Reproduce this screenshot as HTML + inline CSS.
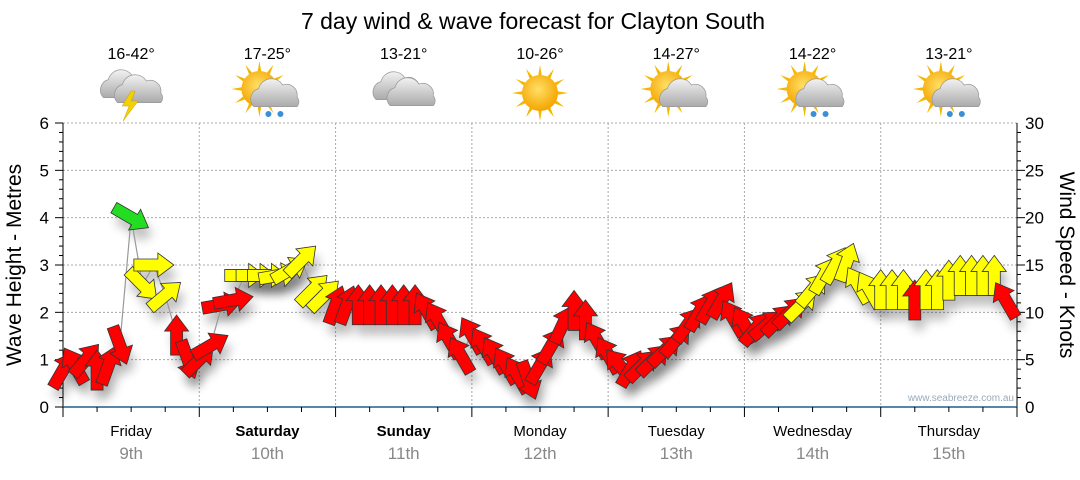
<!DOCTYPE html>
<html><head><meta charset="utf-8"><style>
body{margin:0;background:#fff;font-family:"Liberation Sans","DejaVu Sans",sans-serif}
</style></head><body>
<svg id="chart" width="1080" height="475" xmlns="http://www.w3.org/2000/svg" font-family="Liberation Sans, DejaVu Sans, sans-serif">
<defs>
<filter id="sh" x="-50%" y="-50%" width="200%" height="200%"><feGaussianBlur stdDeviation="5"/></filter>
<radialGradient id="sun" cx="0.45" cy="0.4" r="0.6"><stop offset="0" stop-color="#ffe066"/><stop offset="1" stop-color="#f5a400"/></radialGradient>
<linearGradient id="cl" x1="0" y1="0" x2="0" y2="1"><stop offset="0" stop-color="#f2f2f2"/><stop offset="1" stop-color="#aaa"/></linearGradient>
</defs>
<text x="533" y="29" font-size="23" text-anchor="middle" fill="#000">7 day wind &amp; wave forecast for Clayton South</text>
<g id="grid"></g><g id="axes"></g><g id="header"></g>
<text transform="translate(21,265) rotate(-90)" font-size="21" text-anchor="middle">Wave Height - Metres</text>
<text transform="translate(1060,265) rotate(90)" font-size="21" text-anchor="middle">Wind Speed - Knots</text>
<text x="1014" y="401" font-size="10" text-anchor="end" fill="#9aaabb">www.seabreeze.com.au</text>
<g id="shadows"></g><path id="wline" fill="none" stroke="#999" stroke-width="1.2"/><g id="arrows"></g>
</svg>
<script>
const days=["Friday","Saturday","Sunday","Monday","Tuesday","Wednesday","Thursday"];
const dates=["9th","10th","11th","12th","13th","14th","15th"];
const boldDays=[false,true,true,false,false,false,false];
const temps=["16-42°","17-25°","13-21°","10-26°","14-27°","14-22°","13-21°"];
const icons=["storm","sunrain","cloud","sun","suncloud","sunrain","sunrain"];
const waveTicks=[0,1,2,3,4,5,6];
const windTicks=[0,5,10,15,20,25,30];
// wind speed (knots) every 2 hours
const windSpeed=[3.9,4.4,5.0,3.9,4.4,6.5,20.0,12.9,15.0,11.8,7.6,5.0,
5.0,6.5,10.8,11.3,13.9,13.9,13.9,13.9,14.5,15.5,12.4,11.8,
10.8,10.8,10.8,10.8,10.8,10.8,10.8,10.8,10.2,9.2,7.1,5.5,
7.6,6.5,5.5,4.4,3.4,2.8,4.4,6.5,8.7,10.2,9.2,7.1,
5.5,4.4,4.1,4.4,5.0,6.0,7.1,8.7,10.0,10.8,11.3,9.4,
8.7,8.3,8.7,9.2,10.0,10.8,12.4,13.9,15.0,15.3,12.9,12.4,
12.4,12.4,12.4,11.3,12.4,12.4,13.4,13.9,13.9,13.9,13.9,11.3];
// direction arrow points to (deg, 0 = up, clockwise)
const windDir=[30,330,40,0,20,160,120,135,90,50,0,160,
45,60,80,80,90,90,90,80,60,45,45,45,
20,20,0,0,0,0,0,0,330,330,330,330,
330,330,330,330,330,160,30,30,25,0,0,330,
330,320,30,45,45,45,40,35,30,30,30,330,
330,40,50,45,45,45,40,30,30,20,330,330,
0,0,0,0,0,0,0,0,0,0,0,330];
const windColor=["r","r","r","r","r","r","g","y","y","y","r","r",
"r","r","r","r","y","y","y","y","y","y","y","y",
"r","r","r","r","r","r","r","r","r","r","r","r",
"r","r","r","r","r","r","r","r","r","r","r","r",
"r","r","r","r","r","r","r","r","r","r","r","r",
"r","r","r","r","r","y","y","y","y","y","y","y",
"y","y","y","r","y","y","y","y","y","y","y","r"];
const X0=63,X1=1017,Y0=407,Y1=123;
const NS="http://www.w3.org/2000/svg";
const dayW=(X1-X0)/7;
const xT=t=>X0+t*dayW/12;
const yW=m=>Y0-(Y0-Y1)*m/6;
const yK=k=>Y0-(Y0-Y1)*k/30;
function mk(tag,attrs,parent){const e=document.createElementNS(NS,tag);for(const k in attrs)e.setAttribute(k,attrs[k]);parent.appendChild(e);return e;}
const grid=document.getElementById('grid'),axes=document.getElementById('axes'),hdr=document.getElementById('header');
waveTicks.forEach(m=>{if(m>0){const l=mk('line',{x1:X0,x2:X1,y1:yW(m),y2:yW(m),stroke:'#aaa','stroke-dasharray':'2,2'},grid);

}
const t=mk('text',{x:49,y:yW(m)+6,'font-size':17,'text-anchor':'end'},axes);t.textContent=m;

});
for(let i=1;i<30;i++){if(i%5)mk('line',{x1:X0-4,x2:X0,y1:yK(i),y2:yK(i),stroke:'#000'},axes);mk('line',{x1:X1,x2:X1+(i%5?4:8),y1:yK(i),y2:yK(i),stroke:'#000'},axes);}
waveTicks.forEach(m=>mk('line',{x1:X0-8,x2:X0,y1:yW(m),y2:yW(m),stroke:'#000'},axes));
windTicks.forEach(k=>{const t=mk('text',{x:1025,y:yK(k)+6,'font-size':17},axes);t.textContent=k;

});
mk('line',{x1:X0,x2:X0,y1:Y1,y2:Y0,stroke:'#000'},axes);
mk('line',{x1:X1,x2:X1,y1:Y1,y2:Y0,stroke:'#000'},axes);
mk('line',{x1:X0,x2:X1,y1:Y0,y2:Y0,stroke:'#1f5f8f','stroke-width':1.5},axes);
for(let d=0;d<=7;d++){const x=X0+d*dayW;
if(d>0&&d<7){const l=mk('line',{x1:x,x2:x,y1:Y1,y2:Y0,stroke:'#aaa','stroke-dasharray':'2,2'},grid);

}
mk('line',{x1:x,x2:x,y1:Y0,y2:Y0+10,stroke:'#000'},axes);
if(d<7)for(let q=1;q<4;q++)mk('line',{x1:x+q*dayW/4,x2:x+q*dayW/4,y1:Y0,y2:Y0+5,stroke:'#000'},axes);}
function icon(kind,cx,cy,g){
 const sun=()=>{for(let a=0;a<360;a+=30){const r=a*Math.PI/180;mk('polygon',{points:`${cx+Math.cos(r)*28},${cy+Math.sin(r)*28} ${cx+Math.cos(r+0.15)*15},${cy+Math.sin(r+0.15)*15} ${cx+Math.cos(r-0.15)*15},${cy+Math.sin(r-0.15)*15}`,fill:'#f5b800'},g);}mk('circle',{cx,cy,r:18,fill:'url(#sun)'},g);};
 const cloud=(x,y,s)=>{mk('path',{d:`M${x-18*s},${y+8*s} a9 9 0 0 1 4 -15 a11 11 0 0 1 20 -3 a9 9 0 0 1 12 10 a6 6 0 0 1 0 8 z`,fill:'url(#cl)',stroke:'#999','stroke-width':0.6,transform:`translate(${x},${y}) scale(1.2) translate(${-x},${-y})`},g);};
 const drops=(x,y)=>{mk('circle',{cx:x,cy:y,r:3,fill:'#3a8fd8'},g);mk('circle',{cx:x+12,cy:y,r:3,fill:'#3a8fd8'},g);};
 if(kind==='sun')sun();
 if(kind==='cloud'){cloud(cx-6,cy-3,1);cloud(cx+8,cy+3,1);}
 if(kind==='storm'){cloud(cx-6,cy-5,1);cloud(cx+8,cy,1);mk('polygon',{points:`${cx},${cy-2} ${cx-9},${cy+13} ${cx-2},${cy+13} ${cx-8},${cy+28} ${cx+7},${cy+8} ${cx},${cy+8} ${cx+4},${cy-2}`,fill:'#f5d000',stroke:'#c9a000','stroke-width':0.5},g);}
 if(kind==='sunrain'||kind==='suncloud'){const s0=cx,s1=cy;cx-=8;cy-=4;sun();cx=s0;cy=s1;cloud(cx+8,cy+4,1);if(kind==='sunrain')drops(cx+1,cy+21);}
}
for(let d=0;d<7;d++){const cx=X0+(d+0.5)*dayW;
 const tl=mk('text',{x:cx,y:59,'font-size':16,'text-anchor':'middle'},hdr);tl.textContent=temps[d];
 
 
 const g=mk('g',{},hdr);
 
 
 icon(icons[d],cx,93,g);
 const dl=mk('text',{x:cx,y:436,'font-size':15,'text-anchor':'middle','font-weight':boldDays[d]?'bold':'normal'},axes);dl.textContent=days[d];
 
 
 const dt=mk('text',{x:cx,y:459,'font-size':17,'text-anchor':'middle',fill:'#888'},axes);dt.textContent=dates[d];
 
 }
const cols={r:'#ff0000',y:'#ffff00',g:'#22dd22'};
const ap="M-6,20 L-6,-4 L-12,-4 L0,-20 L12,-4 L6,-4 L6,20 Z";
const ag=document.getElementById('arrows'),sg=document.getElementById('shadows');
let pd='';
windSpeed.forEach((k,i)=>{const x=xT(i),y=yK(k);pd+=(i?'L':'M')+x+','+y;
 const s=mk('path',{d:ap,fill:'#000',opacity:0.25,filter:'url(#sh)',transform:`translate(${x+4},${y+10}) rotate(${windDir[i]})`},sg);
 const a=mk('path',{d:ap,fill:cols[windColor[i]],stroke:'#333','stroke-width':0.8,transform:`translate(${x},${y}) rotate(${windDir[i]})`},ag);
 
 });
document.getElementById('wline').setAttribute('d',pd);
</script>
</body></html>
